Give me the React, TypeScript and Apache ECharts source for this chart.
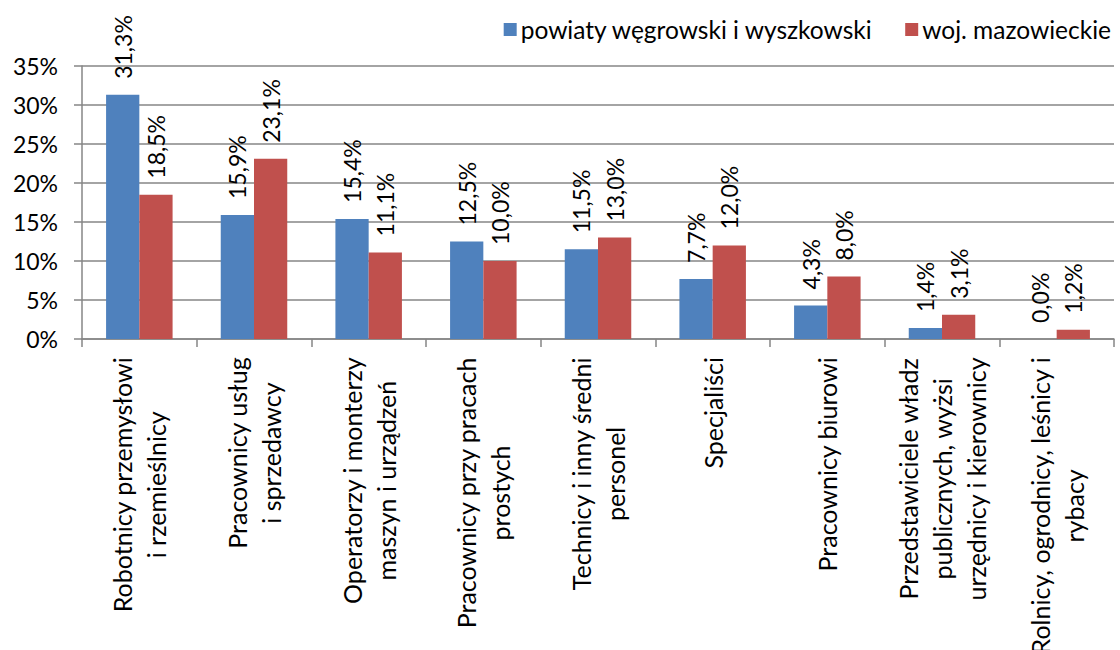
import React, { useEffect, useRef } from "react";
import * as echarts from "echarts";

const categories: string[] = [
  "Robotnicy przemysłowi\ni rzemieślnicy",
  "Pracownicy usług\ni sprzedawcy",
  "Operatorzy i monterzy\nmaszyn i urządzeń",
  "Pracownicy przy pracach\nprostych",
  "Technicy i inny średni\npersonel",
  "Specjaliści",
  "Pracownicy biurowi",
  "Przedstawiciele władz\npublicznych, wyżsi\nurzędnicy i kierownicy",
  "Rolnicy, ogrodnicy, leśnicy i\nrybacy",
];

const seriesNames: string[] = ["powiaty węgrowski i wyszkowski", "woj. mazowieckie"];
const powiatyValues: number[] = [31.3, 15.9, 15.4, 12.5, 11.5, 7.7, 4.3, 1.4, 0.0];
const wojValues: number[] = [18.5, 23.1, 11.1, 10.0, 13.0, 12.0, 8.0, 3.1, 1.2];

const yMin = 0;
const yMax = 35;
const yInterval = 5;

const FONT = "Lato, 'Open Sans', sans-serif";
const FS_NUM = 23;
const FS_TXT = 25;
const FS_LEGEND = 24.5;

const fmtPct = (v: number) => v.toFixed(1).replace(".", ",") + "%";

export default function App() {
  const ref = useRef<HTMLDivElement>(null);
  useEffect(() => {
    if (!ref.current) return;
    const chart = echarts.init(ref.current, null, { renderer: "svg" });
    const labelOpt = {
      show: true,
      position: "top" as const,
      rotate: 90,
      align: "left" as const,
      verticalAlign: "middle" as const,
      distance: 16,
      fontFamily: FONT,
      fontSize: FS_NUM,
      color: "#000",
      formatter: (p: any) => fmtPct(p.value),
    };
    chart.setOption({
      animation: false,
      textStyle: { fontFamily: FONT },
      legend: {
        top: 12,
        right: 4,
        itemWidth: 13,
        itemHeight: 13,
        itemGap: 32,
        icon: "rect",
        textStyle: { fontFamily: FONT, fontSize: FS_LEGEND, color: "#000", padding: [0, 0, 0, -1] },
        data: seriesNames,
      },
      grid: { left: 82, right: 6, top: 66, bottom: 311, containLabel: false, outerBoundsMode: "none" },
      xAxis: {
        type: "category",
        data: categories,
        boundaryGap: true,
        axisLine: { show: true, lineStyle: { color: "#868686", width: 1.5 } },
        axisTick: { show: true, length: 8, alignWithLabel: false, interval: 0, lineStyle: { color: "#868686", width: 1.5 } },
        axisLabel: {
          interval: 0,
          rotate: 90,
          margin: 18,
          color: "#000",
          fontFamily: FONT,
          fontSize: FS_TXT,
          formatter: (v: string) => v.split("\n").map((l) => `{c|${l}}`).join("\n"),
          rich: {
            c: { align: "center", fontFamily: FONT, fontSize: FS_TXT, color: "#000", lineHeight: 34 },
          },
        },
      },
      yAxis: {
        type: "value",
        min: yMin,
        max: yMax,
        interval: yInterval,
        axisLine: { show: true, lineStyle: { color: "#868686", width: 1.5 } },
        axisTick: { show: true, length: 8, lineStyle: { color: "#868686", width: 1.5 } },
        splitLine: { show: true, lineStyle: { color: "#868686", width: 1.5 } },
        axisLabel: {
          margin: 24,
          color: "#000",
          fontFamily: FONT,
          fontSize: FS_NUM,
          formatter: (v: number) => v + "%",
        },
      },
      series: [
        {
          name: seriesNames[0],
          type: "bar",
          data: powiatyValues,
          itemStyle: { color: "#4F81BD" },
          barGap: "0%",
          barCategoryGap: "42%",
          label: labelOpt,
        },
        {
          name: seriesNames[1],
          type: "bar",
          data: wojValues,
          itemStyle: { color: "#C0504D" },
          barGap: "0%",
          barCategoryGap: "42%",
          label: labelOpt,
        },
      ],
    });
    return () => chart.dispose();
  }, []);
  return (
    <div
      ref={ref}
      style={{ position: "fixed", left: 0, top: 0, width: 1120, height: 650, background: "#fff" }}
    />
  );
}
